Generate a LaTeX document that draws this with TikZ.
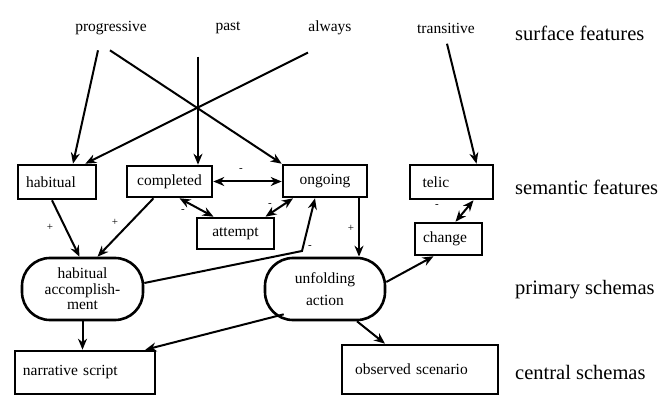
\documentclass[tikz,border=0pt]{standalone}
\usepackage{fontspec}
\setmainfont{Liberation Serif}
\usetikzlibrary{arrows.meta}
\newcommand\nodefont{\fontsize{15.5}{15.5}\selectfont}
\newcommand\levelfont{\fontsize{20.5}{22}\selectfont}
\newcommand\signfont{\fontsize{11}{11}\selectfont}

\begin{document}
\begin{tikzpicture}[x=1pt,y=-1pt,font=\nodefont,>={Stealth[length=11pt,width=9pt]},
  featbox/.style={draw,line width=2.6pt,inner xsep=8pt,inner ysep=0pt},
  schemabox/.style={draw,line width=2.6pt,rounded corners=28pt,inner sep=0pt,align=center},
  arr/.style={->,line width=2pt},
  darr/.style={<->,line width=2pt},
  sign/.style={font=\signfont,inner sep=1pt},
  level/.style={anchor=west,font=\levelfont,inner sep=0pt}]
  \useasboundingbox (0,0) rectangle (667,403);

  % surface features
  \node (progressive) at (111,28) {progressive};
  \node (past) at (228,28) {past};
  \node (always) at (330,28) {always};
  \node (transitive) at (446,28) {transitive};

  % semantic features
  \node[featbox,minimum width=78pt,minimum height=34pt,text width=62pt,align=left] (habitual) at (57,182) {habitual};
  \node[featbox,minimum width=85pt,minimum height=31pt] (completed) at (169.5,181.5) {completed};
  \node[featbox,minimum width=84pt,minimum height=32pt] (ongoing) at (325,181) {ongoing};
  \node[featbox,minimum width=83pt,minimum height=34pt,text width=58pt,align=left,inner xsep=12.5pt] (telic) at (451.5,182) {telic};
  \node[featbox,minimum width=77pt,minimum height=31pt] (attempt) at (235.5,233.5) {attempt};
  \node[featbox,minimum width=67pt,minimum height=32pt,text width=51pt,align=left] (change) at (448.5,239) {change};

  % primary schemas
  \node[schemabox,minimum width=121pt,minimum height=62pt] (habaccomp) at (82.5,289) {habitual\\accomplish-\\ment};
  \node[schemabox,minimum width=120pt,minimum height=62pt] (unfolding) at (325,289) {unfolding\\[6pt]action};

  % central schemas
  \node[featbox,minimum width=138pt,minimum height=43pt,text width=124pt,align=left] (narrative) at (85,372.5) {narrative script};
  \node[featbox,minimum width=156pt,minimum height=49pt,text width=130pt,align=left,inner xsep=13pt] (observed) at (420,369.5) {observed scenario};

  % level names
  \node[level] (surface) at (515,33) {surface features};
  \node[level] (semantic) at (515,187) {semantic features};
  \node[level] (primary) at (515,290) {primary schemas};
  \node[level] (central) at (515,372) {central schemas};

  % from surface to semantic features
  \draw[arr] ([xshift=-13pt,yshift=-12pt]progressive.south) -- ([xshift=16pt]habitual.north);
  \draw[arr] ([xshift=-1pt,yshift=-12pt]progressive.south) -- (ongoing.north west);
  \draw[arr] ([xshift=-30pt,yshift=-19pt]past.south) -- ([xshift=28.5pt]completed.north);
  \draw[arr] ([xshift=-22pt,yshift=-14pt]always.south) -- ([xshift=-12pt]habitual.north east);
  \draw[arr] ([xshift=1pt,yshift=-7pt]transitive.south) -- ([xshift=25pt]telic.north);

  % among semantic features
  \draw[darr] (completed.east) -- (completed.east -| ongoing.west);
  \node[sign] (s1) at (241,170) {-};
  \draw[darr] ([xshift=10pt]completed.south) -- ([xshift=-22pt]attempt.north);
  \node[sign] (s2) at (183,211) {-};
  \draw[darr] ([xshift=30pt]attempt.north) -- ([xshift=-32pt]ongoing.south);
  \node[sign] (s3) at (270,205) {-};
  \draw[darr] ([xshift=22pt]telic.south) -- ([xshift=7pt]change.north);
  \node[sign] (s8) at (437,206) {-};

  % to and from the schemas
  \draw[arr] ([xshift=-5pt]habitual.south) -- ([xshift=-3pt]habaccomp.north);
  \node[sign] (s4) at (50,227) {+};
  \draw[arr] ([xshift=-16pt]completed.south) -- ([xshift=15pt]habaccomp.north);
  \node[sign] (s5) at (115,222) {+};
  \coordinate (kink) at (302,251);
  \draw[arr] ([yshift=6pt]habaccomp.east) -- (kink) -- ([xshift=-10pt]ongoing.south);
  \node[sign] (s6) at (310,247) {-};
  \draw[arr] ([xshift=34pt]ongoing.south) -- ([xshift=34pt]unfolding.north);
  \node[sign] (s7) at (351,228) {+};
  \draw[arr] ([yshift=7pt]unfolding.east) -- ([xshift=-15pt]change.south);
  \draw[arr] ([xshift=20pt,yshift=7pt]unfolding.south west) -- ([xshift=-11pt]narrative.north east);
  \draw[arr] (habaccomp.south) -- (habaccomp.south |- narrative.north);
  \draw[arr] ([xshift=32pt]unfolding.south) -- ([xshift=-35pt]observed.north);
\end{tikzpicture}
\end{document}
